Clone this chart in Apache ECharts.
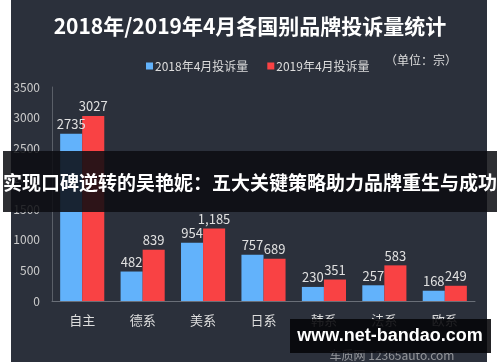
<!DOCTYPE html>
<html><head><meta charset="utf-8">
<script src="https://cdn.jsdelivr.net/npm/echarts@6/dist/echarts.min.js"></script>
<style>html,body{margin:0;padding:0;background:#fff}#c{width:500px;height:362px}</style>
</head><body><div id="c"></div>
<script>
var categories = ['自主','德系','美系','日系','韩系','法系','欧系'];
var values2018 = [2735, 482, 954, 757, 230, 257, 168];
var values2019 = [3027, 839, 1185, 689, 351, 583, 249];
var labels2018 = ['2735','482','954','757','230','257','168'];
var labels2019 = ['3027','839','1,185','689','351','583','249'];
var yTicks = [0, 500, 1000, 1500, 2000, 2500, 3000, 3500];

var chart = echarts.init(document.getElementById('c'));
var font = '"Noto Sans CJK SC", "Microsoft YaHei", sans-serif';
function lbl(arr){ return function(p){ return arr[p.dataIndex]; }; }
chart.setOption({
  backgroundColor: '#ffffff',
  animation: false,
  textStyle: {fontFamily: font},
  title: {
    text: '2018年/2019年4月各国别品牌投诉量统计',
    left: 'center', top: 11,
    textStyle: {color: '#ffffff', fontSize: 21, fontWeight: 'bold', fontFamily: font}
  },
  legend: {
    left: 141, top: 55, itemWidth: 7, itemHeight: 7, itemGap: 19,
    icon: 'rect',
    textStyle: {color: '#dddddd', fontSize: 12, fontFamily: font, padding: [0,0,0,-3]},
    data: ['2018年4月投诉量','2019年4月投诉量']
  },
  grid: {left: 52, right: 25, top: 87, bottom: 61},
  xAxis: {
    type: 'category', data: categories,
    axisLine: {lineStyle: {color: '#6a6f78'}},
    axisTick: {show: false},
    axisLabel: {color: '#dddddd', fontSize: 13, margin: 13, fontFamily: font}
  },
  yAxis: {
    type: 'value', min: yTicks[0], max: yTicks[yTicks.length-1], interval: 500,
    axisLine: {show: true, lineStyle: {color: '#5a5f68'}},
    axisTick: {show: false},
    splitLine: {show: false},
    axisLabel: {color: '#cccccc', fontSize: 12, margin: 12, fontFamily: font, formatter: function(v){ return String(v); }}
  },
  series: [
    {name: '2018年4月投诉量', type: 'bar', data: values2018, barGap: '0%', barCategoryGap: '27%',
     itemStyle: {color: '#62b2fb'},
     label: {show: true, position: 'top', color: '#e0e0e0', fontSize: 13, formatter: lbl(labels2018), distance: 3}},
    {name: '2019年4月投诉量', type: 'bar', data: values2019,
     itemStyle: {color: '#f94244'},
     label: {show: true, position: 'top', color: '#e0e0e0', fontSize: 13, formatter: lbl(labels2019), distance: 3}}
  ],
  graphic: [
    {type: 'rect', z: -10, zlevel: 0, silent: true, shape: {x: 11, y: 0, width: 476, height: 362}, style: {fill: '#2b303b'}},
    {type: 'text', z: 10, left: 385, top: 54, style: {text: '（单位：宗）', fill: '#dddddd', font: '12px ' + font}},
    {type: 'rect', z: 100, shape: {x: 3, y: 151, width: 494, height: 61}, style: {fill: 'rgba(12,13,18,0.86)'}},
    {type: 'text', z: 101, x: 250, y: 183, style: {text: '实现口碑逆转的吴艳妮：五大关键策略助力品牌重生与成功', fill: '#ffffff', font: 'bold 19px ' + font, align: 'center', verticalAlign: 'middle'}},
    {type: 'text', z: 90, x: 392, y: 355, style: {text: '车质网 12365auto.com', fill: 'rgba(230,230,230,0.55)', font: '12px ' + font, align: 'center', verticalAlign: 'middle'}},
    {type: 'rect', z: 100, shape: {x: 290, y: 319, width: 201, height: 34}, style: {fill: 'rgba(5,5,8,0.88)'}},
    {type: 'text', z: 101, x: 390, y: 336, style: {text: 'www.net-bandao.com', fill: '#ffffff', font: 'bold 18px "Liberation Sans", Arial, sans-serif', align: 'center', verticalAlign: 'middle'}}
  ]
});
</script></body></html>
